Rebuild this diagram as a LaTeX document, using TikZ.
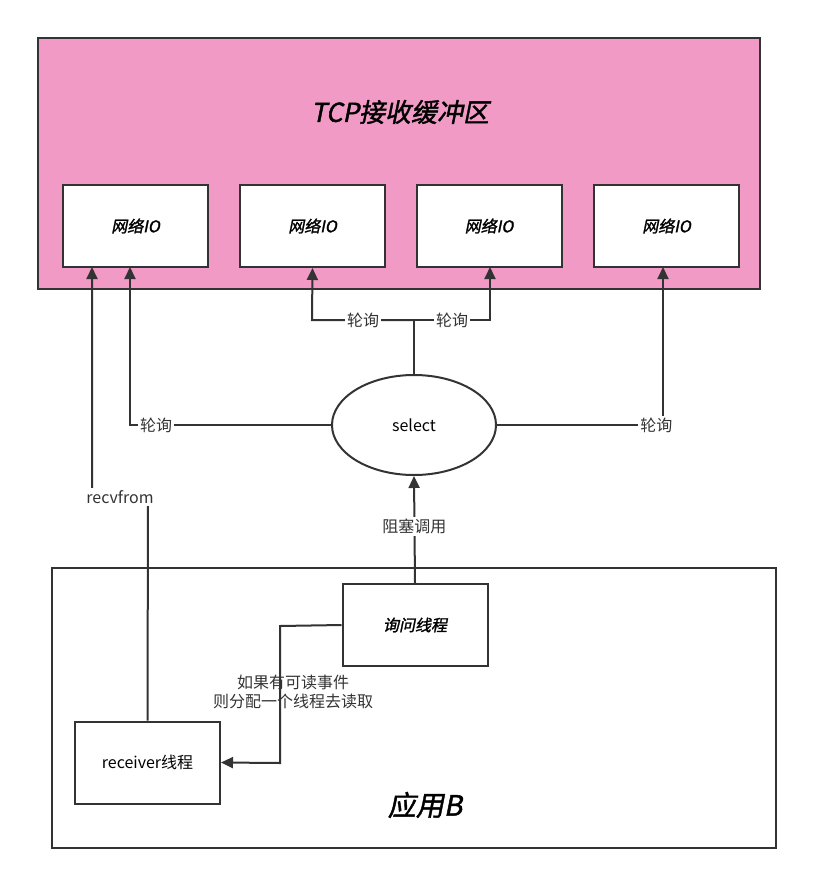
\documentclass[tikz,border=0pt]{standalone}
\usepackage{fontspec}
\setmainfont{Noto Sans CJK SC}
\newfontfamily\slfont[FakeSlant=0.2,FakeBold=1.5]{Noto Sans CJK SC}
\usetikzlibrary{arrows.meta,shapes.geometric}
\definecolor{bufpink}{HTML}{F29AC6}
\definecolor{edge}{HTML}{333333}
\tikzset{
  box/.style={draw=edge, line width=2pt, fill=white, minimum width=145pt, minimum height=82pt, font=\fontsize{16}{18}\selectfont},
  lbl/.style={fill=white, inner sep=2pt, font=\fontsize{16}{19}\selectfont, text=edge},
  conn/.style={draw=edge, line width=2pt},
  arr/.style={conn, -{Triangle[length=12pt,width=11pt]}}
}
\begin{document}
\begin{tikzpicture}[x=1pt,y=-1pt]
          \useasboundingbox (0,0) rectangle (813,886);
          \node[draw=edge, line width=2.5pt, fill=bufpink, minimum width=722pt, minimum height=251pt] (buf) at (399,163.5){};
          \node[font=\fontsize{26}{30}\slfont] (title) at (400,112){TCP接收缓冲区};
          \node[box] (io0) at (135.5,226){\slfont 网络IO};
          \node[box] (io1) at (312.5,226){\slfont 网络IO};
          \node[box] (io2) at (489,226){\slfont 网络IO};
          \node[box] (io3) at (666.5,226){\slfont 网络IO};
          \node[ellipse, draw=edge, line width=2pt, minimum width=164pt, minimum height=100pt, font=\fontsize{16}{18}\selectfont] (sel) at (414,425){select};
          \node[draw=edge, line width=2pt, minimum width=724pt, minimum height=280pt] (app) at (414,708){};
          \node[font=\fontsize{28}{32}\slfont] (appb) at (425,805){应用B};
          \node[box] (ask) at (415,625){\slfont 询问线程};
          \node[box] (recv) at (147.5,762.5){receiver线程};
          \coordinate (up) at (414,320);
          \draw[conn] (sel.north) -- (up);
          \draw[arr] (up) -- node[lbl]{轮询} (312,320) -- (io1.south);
          \draw[arr] (up) -- node[lbl]{轮询} (490,320) -- (490,267);
          \draw[arr] (sel.west) -- node[lbl, pos=0.87]{轮询} (130,425) -- (130,267);
          \draw[arr] (sel.east) -- node[lbl, pos=0.96]{轮询} (663,425) -- (663,267);
          \draw[arr] (ask.north) -- node[lbl, pos=0.53]{阻塞调用} (sel.south);
          \draw[arr] (recv.north) -- (148,497) -- node[lbl]{recvfrom} (92,497) -- (92,267);
          \draw[arr] (ask.west) -- (280,626) -- (280,763) -- (recv.east);
          \node[lbl, align=center, fill=none] (hint) at (293,692){如果有可读事件\\则分配一个线程去读取};
        \end{tikzpicture}
\end{document}
